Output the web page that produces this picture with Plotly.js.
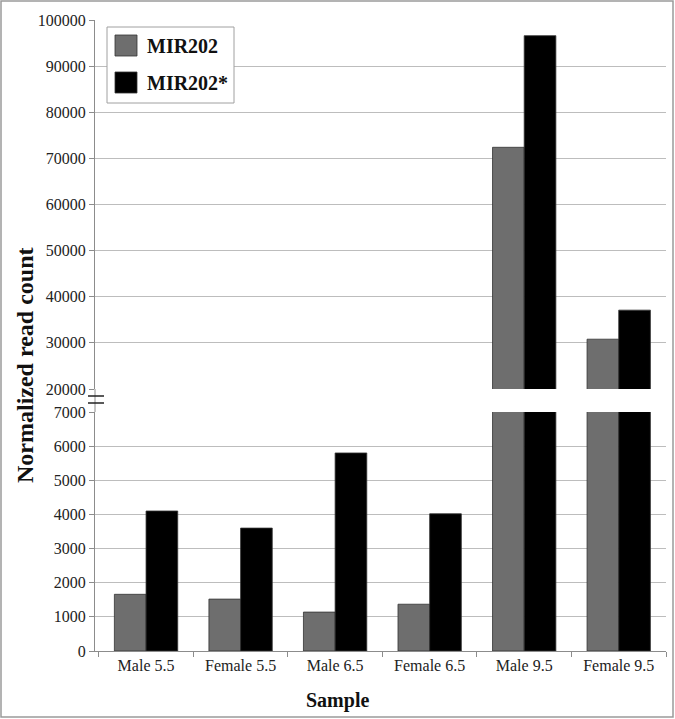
<!DOCTYPE html>
<html>
<head>
<meta charset="utf-8">
<script src="https://cdn.plot.ly/plotly-3.0.1.min.js"></script>
<style>
  body { margin: 0; background: #fff; }
  #chart { width: 675px; height: 719px; }
</style>
</head>
<body>
<div id="chart"></div>
<script>
const samples = ["Male 5.5", "Female 5.5", "Male 6.5", "Female 6.5", "Male 9.5", "Female 9.5"];
const seriesNames = ["MIR202", "MIR202*"];
const mir202 = [1660, 1520, 1140, 1370, 72400, 30800];
const mir202star = [4100, 3600, 5800, 4020, 96600, 37100];
const seriesColors = ['#6e6e6e', '#000000'];

const lowerTicks = [0, 1000, 2000, 3000, 4000, 5000, 6000, 7000];
const upperTicks = [20000, 30000, 40000, 50000, 60000, 70000, 80000, 90000, 100000];

const serif = "Liberation Serif";
const gridGrey = '#bdbdbd';
const axisGrey = '#8c8c8c';
const tickFont = {family: serif, size: 16, color: '#222'};

function barTrace(values, i, xa, ya){
    return {
        type: 'bar',
        x: samples,
        y: values,
        name: seriesNames[i],
        xaxis: xa,
        yaxis: ya,
        marker: {color: seriesColors[i], line: {color: '#333', width: 0.8}},
        hoverinfo: 'x+y',
        showlegend: false
    };
}

const data = [
    barTrace(mir202, 0, 'x', 'y'),
    barTrace(mir202star, 1, 'x', 'y'),
    barTrace(mir202, 0, 'x2', 'y2'),
    barTrace(mir202star, 1, 'x2', 'y2')
];

// pixel helpers for the plot area (95..666 x 20..651)
const W = 675, H = 719, L = 95, R = 9, T = 20, B = 68;
const pw = W - L - R, ph = H - T - B;
const px = v => (v - L) / pw;
const py = v => (H - B - v) / ph;

const lowerTop = py(412);
const upperBottom = py(389);

const shapes = [
    // outer frame
    {type: 'rect', xref: 'paper', yref: 'paper', x0: px(1), x1: px(673), y0: py(717), y1: py(1),
     line: {color: '#9a9a9a', width: 1.5}},
    // axis line through the break
    {type: 'line', xref: 'paper', yref: 'paper', x0: 0, x1: 0, y0: lowerTop, y1: upperBottom,
     line: {color: axisGrey, width: 1}},
    // break marks
    {type: 'line', xref: 'paper', yref: 'paper', x0: px(88), x1: px(104), y0: py(396), y1: py(396),
     line: {color: '#222', width: 1.5}},
    {type: 'line', xref: 'paper', yref: 'paper', x0: px(88), x1: px(104), y0: py(403), y1: py(403),
     line: {color: '#222', width: 1.5}},
    // legend box
    {type: 'rect', xref: 'paper', yref: 'paper', x0: px(107), x1: px(234), y0: py(103), y1: py(27),
     fillcolor: '#fff', line: {color: '#a0a0a0', width: 1}},
    {type: 'rect', xref: 'paper', yref: 'paper', x0: px(115), x1: px(137), y0: py(56), y1: py(35),
     fillcolor: seriesColors[0], line: {color: '#333', width: 0.8}},
    {type: 'rect', xref: 'paper', yref: 'paper', x0: px(115), x1: px(137), y0: py(93), y1: py(72),
     fillcolor: seriesColors[1], line: {color: '#333', width: 0.8}}
];

const annotations = [
    {text: '<b>' + seriesNames[0] + '</b>', xref: 'paper', yref: 'paper', x: px(145), y: py(46),
     xanchor: 'left', yanchor: 'middle', showarrow: false, font: {family: serif, size: 20, color: '#111'}},
    {text: '<b>' + seriesNames[1] + '</b>', xref: 'paper', yref: 'paper', x: px(145), y: py(83),
     xanchor: 'left', yanchor: 'middle', showarrow: false, font: {family: serif, size: 20, color: '#111'}},
    {text: '<b>Normalized read count</b>', xref: 'paper', yref: 'paper', x: px(25), y: py(365),
     xanchor: 'center', yanchor: 'middle', textangle: -90, showarrow: false,
     font: {family: serif, size: 24, color: '#111'}},
    {text: '<b>Sample</b>', xref: 'paper', yref: 'paper', x: px(337), y: py(700),
     xanchor: 'center', yanchor: 'middle', showarrow: false,
     font: {family: serif, size: 20, color: '#111'}}
];

const layout = {
    width: W,
    height: H,
    margin: {l: L, r: R, t: T, b: B},
    paper_bgcolor: '#fff',
    plot_bgcolor: '#fff',
    barmode: 'group',
    bargap: 0.33,
    bargroupgap: 0,
    showlegend: false,
    font: {family: serif, size: 16, color: '#222'},
    xaxis: {
        domain: [0, 1],
        anchor: 'y',
        type: 'category',
        range: [-0.54, 5.5],
        showline: true, linecolor: axisGrey, linewidth: 1,
        ticks: 'outside', tickson: 'boundaries', ticklen: 5, tickcolor: axisGrey,
        showgrid: false,
        tickfont: tickFont
    },
    yaxis: {
        domain: [0, lowerTop],
        range: [0, 7000],
        tickvals: lowerTicks,
        ticktext: lowerTicks.map(String),
        ticks: 'outside', ticklen: 5, tickcolor: axisGrey,
        showline: true, linecolor: axisGrey,
        gridcolor: gridGrey, zeroline: false,
        tickfont: tickFont
    },
    xaxis2: {
        domain: [0, 1],
        anchor: 'y2',
        matches: 'x',
        type: 'category',
        showticklabels: false,
        showline: false,
        showgrid: false,
        ticks: ''
    },
    yaxis2: {
        domain: [upperBottom, 1],
        range: [20000, 100000],
        tickvals: upperTicks,
        ticktext: upperTicks.map(String),
        ticks: 'outside', ticklen: 5, tickcolor: axisGrey,
        showline: true, linecolor: axisGrey,
        gridcolor: gridGrey, zeroline: false,
        tickfont: tickFont
    },
    shapes: shapes,
    annotations: annotations
};

Plotly.newPlot('chart', data, layout, {displayModeBar: false, staticPlot: true});
</script>
</body>
</html>
